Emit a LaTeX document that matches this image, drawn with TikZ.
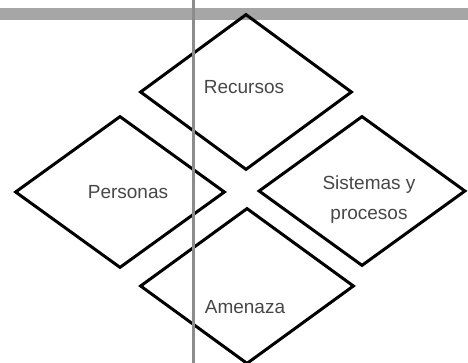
\documentclass[tikz,border=0pt]{standalone}
\usepackage{fontspec}
\setmainfont{Liberation Sans}
\usepackage{xcolor}
\usetikzlibrary{shapes.geometric}
\colorlet{rombo edge}{black}
\colorlet{rombo text}{black!72}
\colorlet{banda}{black!35}
\colorlet{regla}{black!45}
\tikzset{rombo/.style={diamond, draw=rombo edge, line width=3pt, inner sep=0pt},
    etiqueta/.style={text=rombo text, font=\fontsize{19}{30}\selectfont, align=center, inner sep=0pt}}

\begin{document}
\begin{tikzpicture}[x=1pt, y=-1pt]
    \useasboundingbox (0,0) rectangle (468,363);
    \fill[banda] (0,8) rectangle (468,20);
    \node[rombo, minimum width=212pt, minimum height=156pt] (recursos) at (246,92)  {};
    \node[rombo, minimum width=210pt, minimum height=152pt] (personas) at (120,192) {};
    \node[rombo, minimum width=207pt, minimum height=150pt] (sistemas) at (362,191) {};
    \node[rombo, minimum width=214pt, minimum height=156pt] (amenaza)  at (247,286) {};
    \node[etiqueta] (t recursos) at (244,87)  {Recursos};
    \node[etiqueta] (t personas) at (128,192) {Personas};
    \node[etiqueta] (t sistemas) at (369,200) {Sistemas y\\procesos};
    \node[etiqueta] (t amenaza)  at (245,307) {Amenaza};
    \draw[regla, line width=3pt] (193,0) -- (193,363);
\end{tikzpicture}
\end{document}
